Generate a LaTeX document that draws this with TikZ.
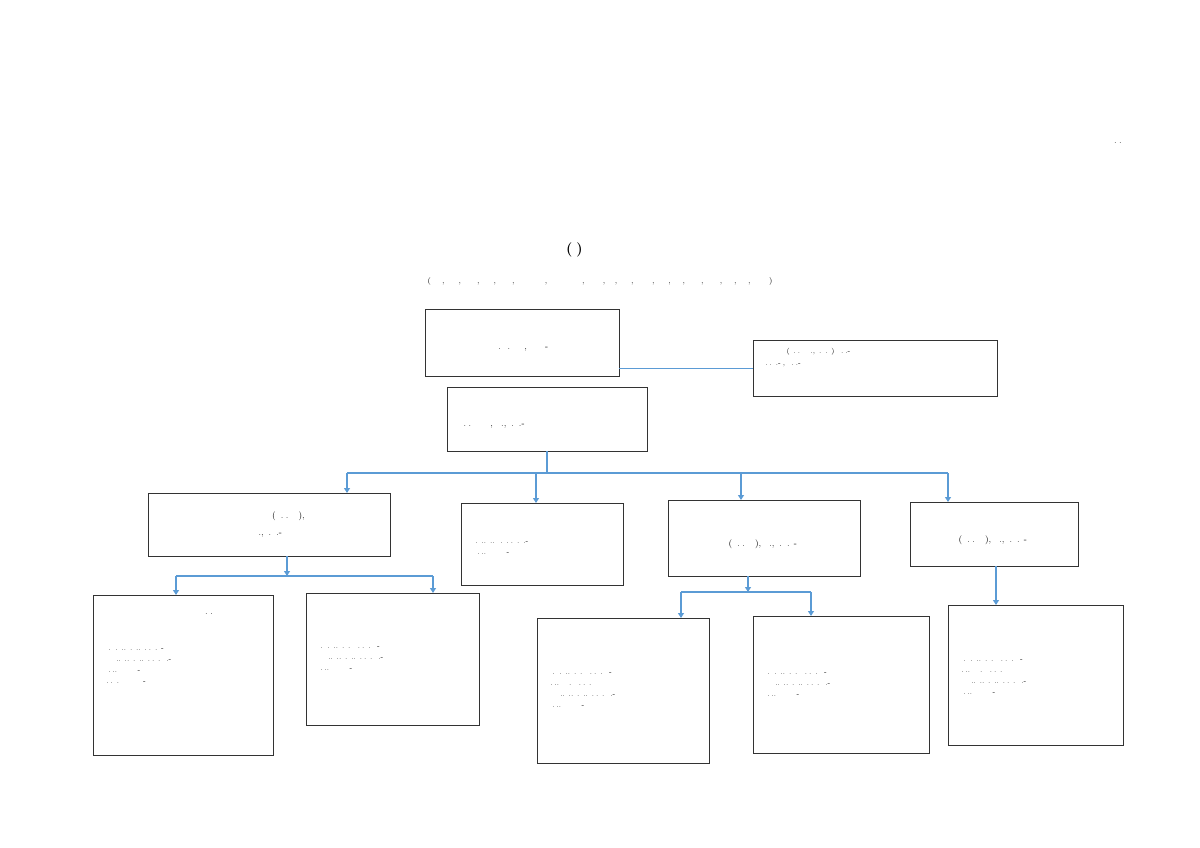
\documentclass[tikz,border=0pt]{standalone}
\usetikzlibrary{arrows.meta}
\begin{document}
\begin{tikzpicture}[x=1pt,y=-1pt,
  box/.style={draw=black!80,line width=0.7pt},
  txt/.style={font=\small,align=center},
  sm/.style={font=\scriptsize,align=left,anchor=north west},
  ln/.style={draw={rgb,255:red,91;green,155;blue,213},line width=1.1pt},
  ar/.style={ln,-{Triangle[length=5pt,width=6pt]}}]
\useasboundingbox (0,0) rectangle (1200,848);
\node[font=\small] (anu) at (1110,143) {अनुसूची ८.४.१};
\node[font=\large\bfseries] (t1) at (600,187) {नेपाल सरकार};
\node[font=\large\bfseries] (t2) at (600,218) {गृह मन्त्रालय};
\node[font=\Large\bfseries] (t3) at (600,250) {जिल्ला प्रशासन कार्यालय (क)२ अन्तर्गत पर्ने जिल्लाहरुको संगठन संरचना};
\node[font=\footnotesize] (t4) at (600,281) {(सप्तरी, सिरहा, सर्लाही, चितवन, ललितपुर, नवलपरासी पूर्व, नवलपरासी पश्चिम, कपिलवस्तु, दाङ, कैलाली, महोत्तरी, रौतहट, बारा, कन्चनपुर, बर्दिया, सुर्खेत, काभ्रे, मकवानपुर)};
% boxes
\draw[box] (425,309) rectangle (619,376) coordinate (Abr);
\node[txt] (A) at (522,342) {प्रमुख जिल्ला अधिकारी\\[6pt]रा. प. प्रथम, प्रशासन-१};
\draw[box] (753,340) rectangle (997,396);
\node[sm] (P) at (760,345) {निजी सहायक (रा.प.अनं प्र.,प्र.सा.प्र) ना.सु.-१\\[4pt]ह.स.चा.-१, का.स.-१};
\draw[box] (447,387) rectangle (647,451);
\node[txt,align=left,anchor=west] (B) at (455,419) {सहायक प्रमुख जिल्ला अधिकारी\\[6pt]रा.प. द्बितिय, प्र.,सा.प्र.-१};
\draw[box] (148,493) rectangle (390,556);
\node[txt] (C1) at (269,524) {प्रशासकीय अधिकृत (रा.प.तृतीय),\\[6pt]प्र.,सा.प्र.-१};
\draw[box] (461,503) rectangle (623,585);
\node[txt,anchor=north west] (C2h) at (470,510) {आर्थिक प्रशासन शाखा};
\node[sm] (C2) at (470,538) {ले.पा..प्र..लेखा.रा.प.अनं.प्र.- १\\[3pt]का.स..श्रेणी बिहिन- १};
\draw[box] (668,500) rectangle (860,576);
\node[txt] (C3) at (764,538) {प्रशासकीय अधिकृत\\[8pt](रा.प.तृतीय), प्र.,सा.प्र. -१};
\draw[box] (910,502) rectangle (1078,566);
\node[txt] (C4) at (994,534) {प्रशासकीय अधिकृत\\[8pt](रा.प.तृतीय), प्र.,सा.प्र. -१};
\draw[box] (93,595) rectangle (273,755);
\node[txt] (D1h) at (183,622) {स्थानीय प्रशासन तथा शा.सु.\\[4pt]शाखा};
\node[sm] (D1) at (101,645) {ना.सु .प्र..सा.प्र..रा.प.अनं.प्र-२\\[3pt]खरिदार..प्र..सा.प्र..रा.प.अनं.द्वि.- १\\[3pt]का.स..श्रेणी बिहिन- १\\[3pt]ह.स.चा. श्रेणी बिहिन- १};
\draw[box] (306,593) rectangle (479,725);
\node[txt] (D2h) at (392,620) {मुद्दा तथा हातहतियार\\[4pt]शाखा};
\node[sm] (D2) at (313,643) {ना.सु .प्र..सा.प्र. रा.प.अनं.प्र -२\\[3pt]खरिदार..प्र..सा.प्र..रा.प.अनं.द्वि.- १\\[3pt]का.स..श्रेणी बिहिन- १};
\draw[box] (537,618) rectangle (709,763);
\node[txt] (D3h) at (623,645) {राहदानी तथा जिन्सी दर्ता\\[4pt]शाखा};
\node[sm] (D3) at (545,669) {ना.सु .प्र..सा.प्र. रा.प.अनं.प्र -२\\[3pt]क.अ..विविध. रा.प.अनं.प्र १\\[3pt]खरिदार..प्र..सा.प्र..रा.प.अनं.द्वि.- १\\[3pt]का.स..श्रेणी बिहिन- १};
\draw[box] (753,616) rectangle (929,753);
\node[txt] (D4h) at (841,645) {गुनासो सुनुवाइ तथा\\[4pt]अभिलेख व्यवस्थापन शाखा};
\node[sm] (D4) at (760,669) {ना.सु .प्र..सा.प्र. रा.प.अनं.प्र -१\\[3pt]खरिदार..प्र..सा.प्र..रा.प.अनं.द्वि.- १\\[3pt]का.स..श्रेणी बिहिन- १};
\draw[box] (948,605) rectangle (1123,745);
\node[txt] (D5h) at (1035,632) {नागरिकता तथा प्रतिलिपि\\[4pt]शाखा};
\node[sm] (D5) at (956,656) {ना.सु .प्र..सा.प्र. रा.प.अनं.प्र -२\\[3pt]क.अ..विविध. रा.प.अनं.प्र २\\[3pt]खरिदार..प्र..सा.प्र..रा.प.अनं.द्वि.- १\\[3pt]का.स..श्रेणी बिहिन- १};
% connectors
\coordinate (a1) at (619,368); \coordinate (p1) at (753,368);
\draw[ln,line width=0.6pt] (a1) -- (p1);
\coordinate (b0) at (547,451); \coordinate (b1) at (547,473);
\coordinate (L) at (347,473); \coordinate (R) at (948,473);
\draw[ln] (b0) -- (b1); \draw[ln] (L) -- (R);
\coordinate (x2) at (536,473); \coordinate (x3) at (741,473);
\draw[ar] (L) -- (347,493);
\draw[ar] (x2) -- (536,503);
\draw[ar] (x3) -- (741,500);
\draw[ar] (R) -- (948,502);
\coordinate (c1b) at (287,556); \coordinate (c1m) at (287,576);
\draw[ar] (c1b) -- (c1m);
\coordinate (l1) at (176,576); \coordinate (r1) at (433,576);
\draw[ln] (l1) -- (r1);
\draw[ar] (l1) -- (176,595); \draw[ar] (r1) -- (433,593);
\coordinate (c3b) at (748,576); \coordinate (c3m) at (748,592);
\draw[ar] (c3b) -- (c3m);
\coordinate (l3) at (681,592); \coordinate (r3) at (811,592);
\draw[ln] (l3) -- (r3);
\draw[ar] (l3) -- (681,618); \draw[ar] (r3) -- (811,616);
\coordinate (c4b) at (996,566);
\draw[ar] (c4b) -- (996,605);
\end{tikzpicture}
\end{document}
